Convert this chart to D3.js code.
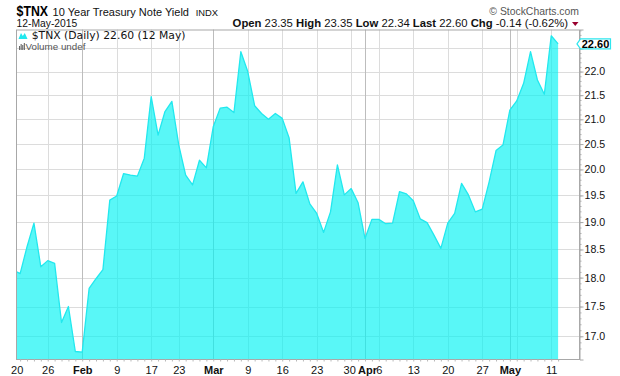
<!DOCTYPE html>
<html>
<head>
<meta charset="utf-8">
<script src="https://cdn.jsdelivr.net/npm/d3@7"></script>
<style>
  body { margin: 0; background: #fff; }
  svg { display: block; font-family: "Liberation Sans", Arial, sans-serif; }
</style>
</head>
<body>
<div class="vis-chart"></div>
<script>
// trading days shown (first one is only partly visible at the left edge)
const dates = [
  "2015-01-16", "2015-01-20", "2015-01-21", "2015-01-22", "2015-01-23",
  "2015-01-26", "2015-01-27", "2015-01-28", "2015-01-29", "2015-01-30",
  "2015-02-02", "2015-02-03", "2015-02-04", "2015-02-05", "2015-02-06",
  "2015-02-09", "2015-02-10", "2015-02-11", "2015-02-12", "2015-02-13",
  "2015-02-17", "2015-02-18", "2015-02-19", "2015-02-20",
  "2015-02-23", "2015-02-24", "2015-02-25", "2015-02-26", "2015-02-27",
  "2015-03-02", "2015-03-03", "2015-03-04", "2015-03-05", "2015-03-06",
  "2015-03-09", "2015-03-10", "2015-03-11", "2015-03-12", "2015-03-13",
  "2015-03-16", "2015-03-17", "2015-03-18", "2015-03-19", "2015-03-20",
  "2015-03-23", "2015-03-24", "2015-03-25", "2015-03-26", "2015-03-27",
  "2015-03-30", "2015-03-31", "2015-04-01", "2015-04-02",
  "2015-04-06", "2015-04-07", "2015-04-08", "2015-04-09", "2015-04-10",
  "2015-04-13", "2015-04-14", "2015-04-15", "2015-04-16", "2015-04-17",
  "2015-04-20", "2015-04-21", "2015-04-22", "2015-04-23", "2015-04-24",
  "2015-04-27", "2015-04-28", "2015-04-29", "2015-04-30", "2015-05-01",
  "2015-05-04", "2015-05-05", "2015-05-06", "2015-05-07", "2015-05-08",
  "2015-05-11", "2015-05-12"
];

const closes = [
  18.13, 18.07, 18.55, 18.98, 18.19,
  18.30, 18.25, 17.23, 17.50, 16.75,
  16.74, 17.81, 17.98, 18.14, 19.41,
  19.49, 19.92, 19.89, 19.87, 20.22,
  21.47, 20.68, 21.16, 21.37,
  20.48, 19.89, 19.70, 20.18, 20.03,
  20.85, 21.23, 21.25, 21.14, 22.43,
  22.00, 21.28, 21.12, 21.00, 21.12,
  21.02, 20.62, 19.54, 19.76, 19.34,
  19.16, 18.81, 19.19, 20.09, 19.51,
  19.63, 19.36, 18.70, 19.05,
  19.05, 18.97, 18.98, 19.57, 19.53,
  19.40, 19.06, 18.99, 18.76, 18.52,
  18.98, 19.16, 19.73, 19.51, 19.19,
  19.24, 19.76, 20.37, 20.48, 21.19,
  21.38, 21.75, 22.43, 21.82, 21.52,
  22.78, 22.60
];

// 22.5 sits under the last-value flag, so it gets no label
const yTicks = [17.0, 17.5, 18.0, 18.5, 19.0, 19.5, 20.0, 20.5, 21.0, 21.5, 22.0, 22.5];
const yLabelled = [17.0, 17.5, 18.0, 18.5, 19.0, 19.5, 20.0, 20.5, 21.0, 21.5, 22.0];

const xTickDates = [
  "2015-01-20", "2015-01-26", "2015-02-02", "2015-02-09", "2015-02-17", "2015-02-23",
  "2015-03-02", "2015-03-09", "2015-03-16", "2015-03-23", "2015-03-30", "2015-04-01",
  "2015-04-06", "2015-04-13", "2015-04-20", "2015-04-27", "2015-05-01", "2015-05-04",
  "2015-05-11"
];
const xTickLabels = ["20", "26", "Feb", "9", "17", "23", "Mar", "9", "16", "23", "30", "Apr",
  "6", "13", "20", "27", "May", "", "11"];

const quoteNames = ["Open", "High", "Low", "Last", "Chg"];
const quoteValues = ["23.35", "23.35", "22.34", "22.60", "-0.14 (-0.62%)"];

const draw = () => {
    const width = 620
    const height = 376
    const plot = { left: 16, top: 29.5, right: 579.5, bottom: 359.5 }

    // index 0 = 20 Jan, the 16 Jan point sits left of the frame
    const data = dates.map((d, i) => ({ date: d, i: i - 1, v: closes[i] }))
    const last = data[data.length - 1]

    const x = d3.scaleLinear()
        .domain([-0.6, 81.1])
        .range([plot.left, plot.right])

    const y = d3.scaleLog()
        .domain([16.62, 22.92])
        .range([plot.bottom, plot.top])

    const idxOf = d => dates.indexOf(d) - 1
    const monthStarts = ["Feb", "Mar", "Apr", "May"]

    d3.select('.vis-chart > *').remove();

    const svg = d3.select('.vis-chart')
        .append('svg')
        .attr('width', width)
        .attr('height', height)

    svg.append("rect")
        .attr("width", width)
        .attr("height", height)
        .attr("fill", "#fff")

    svg.append("clipPath")
        .attr("id", "plot-clip")
        .append("rect")
        .attr("x", plot.left)
        .attr("y", plot.top)
        .attr("width", plot.right - plot.left)
        .attr("height", plot.bottom - plot.top)

    // grid
    svg.append("g")
        .selectAll("line")
        .data(yTicks)
        .join("line")
        .attr("x1", plot.left)
        .attr("x2", plot.right)
        .attr("y1", d => Math.round(y(d)) + 0.5)
        .attr("y2", d => Math.round(y(d)) + 0.5)
        .attr("stroke", "#dcdcdc")

    const vGrid = xTickDates.map((d, k) => ({ i: idxOf(d), label: xTickLabels[k] }))
        .filter(d => x(d.i) > plot.left + 5)

    svg.append("g")
        .selectAll("line")
        .data(vGrid)
        .join("line")
        .attr("x1", d => Math.round(x(d.i)) + 0.5)
        .attr("x2", d => Math.round(x(d.i)) + 0.5)
        .attr("y1", plot.top)
        .attr("y2", plot.bottom)
        .attr("stroke", d => monthStarts.includes(d.label) ? "#bdbdbd" : "#dcdcdc")

    // area
    const area = d3.area()
        .x(d => x(d.i))
        .y0(plot.bottom)
        .y1(d => y(d.v))

    const line = d3.line()
        .x(d => x(d.i))
        .y(d => y(d.v))

    const g = svg.append("g").attr("clip-path", "url(#plot-clip)")

    g.append("path")
        .datum(data)
        .attr("d", area)
        .attr("fill", "#00f2f2")
        .attr("fill-opacity", 0.65)

    g.append("path")
        .datum(data)
        .attr("d", line)
        .attr("fill", "none")
        .attr("stroke", "#22e8ee")
        .attr("stroke-width", 1.3)
        .attr("stroke-linejoin", "round")

    // frame
    svg.append("rect")
        .attr("x", plot.left + 0.5)
        .attr("y", plot.top + 0.5)
        .attr("width", plot.right - plot.left - 0.5)
        .attr("height", plot.bottom - plot.top - 0.5)
        .attr("fill", "none")
        .attr("stroke", "#a8a8a8")

    // y axis on the right
    const minor = d3.range(168, 230).map(d => d / 10)
    svg.append("g")
        .attr("transform", `translate(${plot.right},0)`)
        .call(d3.axisRight(y).tickValues(minor).tickSize(2).tickFormat(""))
        .call(s => s.select(".domain").remove())
        .call(s => s.selectAll("line").attr("stroke", "#b0b0b0"))

    const yAxis = svg.append("g")
        .attr("transform", `translate(${plot.right},0)`)
        .call(d3.axisRight(y).tickValues(yTicks).tickSize(4).tickPadding(1)
            .tickFormat(d => yLabelled.includes(d) ? d3.format(".1f")(d) : ""))
    yAxis.select(".domain").attr("stroke", "#a8a8a8")
    yAxis.selectAll("line").attr("stroke", "#a8a8a8")
    yAxis.selectAll("text")
        .attr("font-family", "'Liberation Sans', Arial, sans-serif")
        .attr("font-size", 10.6)
        .attr("fill", "#111")

    // last value marker
    const ly = y(last.v)
    svg.append("path")
        .attr("d", `M${plot.right - 2.5},${ly} L${plot.right + 1},${ly - 5} L${plot.right + 31},${ly - 5} L${plot.right + 31},${ly + 5} L${plot.right + 1},${ly + 5} Z`)
        .attr("fill", "#fff")
        .attr("stroke", "#2ee6ee")
        .attr("stroke-width", 1.2)

    svg.append("text")
        .attr("x", plot.right + 16)
        .attr("y", ly + 4)
        .attr("text-anchor", "middle")
        .attr("font-size", 11)
        .attr("font-weight", "bold")
        .attr("fill", "#000")
        .text(last.v.toFixed(2))

    // x axis
    svg.append("g")
        .attr("transform", `translate(0,${plot.bottom})`)
        .call(d3.axisBottom(x).tickValues(data.filter(d => d.i >= 0).map(d => d.i)).tickSize(2).tickFormat(""))
        .call(s => s.select(".domain").remove())
        .call(s => s.selectAll("line").attr("stroke", "#b8b8b8"))

    const xAxis = svg.append("g")
        .attr("transform", `translate(0,${plot.bottom})`)
        .call(d3.axisBottom(x).tickValues(xTickDates.map(idxOf)).tickSize(0).tickPadding(7)
            .tickFormat((d, k) => xTickLabels[k]))
    xAxis.select(".domain").remove()
    xAxis.selectAll("text")
        .attr("font-family", "'Liberation Sans', Arial, sans-serif")
        .attr("font-size", 11)
        .attr("fill", "#111")
        .attr("font-weight", (d, k) => monthStarts.includes(xTickLabels[k]) ? "bold" : "normal")
    // first label is pushed in to stay inside the frame
    xAxis.selectAll(".tick").filter((d, k) => k === 0).select("text")
        .attr("dx", plot.left + 0.7 - x(idxOf(xTickDates[0])))
    xAxis.selectAll(".tick").filter((d, k) => k === 10).select("text").attr("dx", -2)
    xAxis.selectAll(".tick").filter((d, k) => k === 11).select("text").attr("dx", 2)

    // header
    svg.append("text")
        .attr("x", 16.6)
        .attr("y", 16)
        .attr("font-family", "'Liberation Sans Narrow', 'Liberation Sans', Arial, sans-serif")
        .attr("font-size", 15)
        .attr("font-weight", "bold")
        .attr("textLength", 31.5)
        .attr("lengthAdjust", "spacingAndGlyphs")
        .text("$TNX")

    svg.append("text")
        .attr("x", 52.6)
        .attr("y", 15.5)
        .attr("font-size", 11)
        .attr("fill", "#111")
        .text("10 Year Treasury Note Yield")

    svg.append("text")
        .attr("x", 195.7)
        .attr("y", 15.5)
        .attr("font-size", 9.4)
        .attr("fill", "#111")
        .text("INDX")

    svg.append("text")
        .attr("x", 579)
        .attr("y", 15)
        .attr("text-anchor", "end")
        .attr("font-size", 10.4)
        .attr("fill", "#555")
        .text("\u00a9 StockCharts.com")

    svg.append("text")
        .attr("x", 16.6)
        .attr("y", 27)
        .attr("font-size", 10.3)
        .attr("fill", "#111")
        .text("12-May-2015")

    const quote = svg.append("text")
        .attr("x", 568)
        .attr("y", 27)
        .attr("text-anchor", "end")
        .attr("font-size", 11.3)
        .attr("fill", "#111")
    quoteNames.forEach((n, k) => {
        quote.append("tspan").attr("font-weight", "bold").text((k ? " " : "") + n)
        quote.append("tspan").text(" " + quoteValues[k])
    })

    svg.append("path")
        .attr("d", "M572,22 L578.5,22 L575.25,26 Z")
        .attr("fill", "#99002e")

    // legend
    svg.append("path")
        .attr("d", "M18.5,39 L21,33 L22.8,36 L24.8,33 L27.5,39 Z")
        .attr("fill", "#22e8ee")

    svg.append("text")
        .attr("x", 31.7)
        .attr("y", 39)
        .attr("font-family", "'DejaVu Sans', Verdana, sans-serif")
        .attr("font-size", 10.8)
        .attr("fill", "#111")
        .text(`$TNX (Daily) ${last.v.toFixed(2)} (12 May)`)

    svg.append("g")
        .selectAll("rect")
        .data([4, 6, 5, 7])
        .join("rect")
        .attr("x", (d, k) => 19 + k * 1.6)
        .attr("y", d => 50 - d)
        .attr("width", 1.1)
        .attr("height", d => d)
        .attr("fill", "#666")

    svg.append("text")
        .attr("x", 25.5)
        .attr("y", 50)
        .attr("font-size", 9.8)
        .attr("fill", "#555")
        .text("Volume undef")
}

draw();
</script>
</body>
</html>
